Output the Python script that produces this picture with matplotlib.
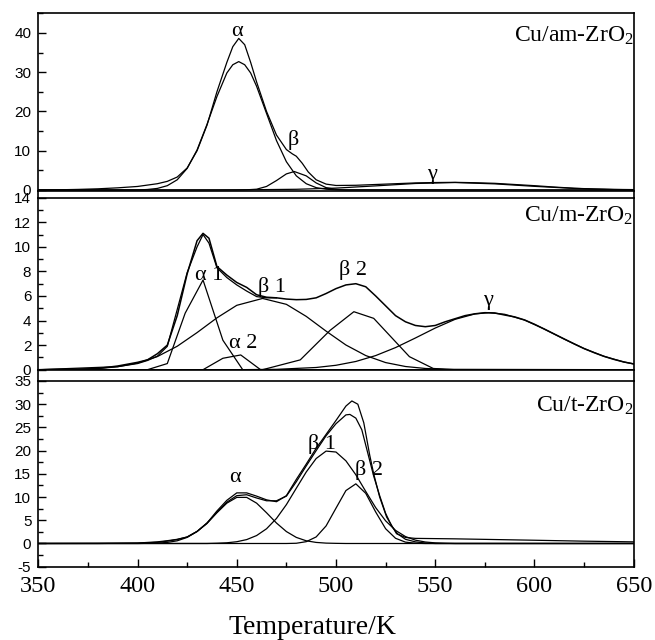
import matplotlib
matplotlib.use('Agg')
import matplotlib.pyplot as plt
from matplotlib.ticker import MultipleLocator
from matplotlib.lines import Line2D

# ---- Cu/am-ZrO2 (top panel) ----
am_T = [350, 360, 370, 380, 390, 400, 410, 415, 420, 425, 430, 435, 440, 445, 448, 451,
        454, 457, 460, 465, 470, 475, 478, 480, 483, 486, 490, 495, 500, 510, 520, 530,
        540, 550, 560, 570, 580, 590, 600, 610, 620, 630, 640, 650]
am_total = [0.0, 0.05, 0.15, 0.3, 0.55, 0.9, 1.6, 2.2, 3.3, 5.6, 10.0, 16.5, 25.0, 32.5, 36.5, 38.6,
            37.0, 32.5, 27.5, 20.0, 14.0, 10.3, 9.2, 8.6, 6.8, 4.6, 2.6, 1.5, 1.15, 1.2, 1.4, 1.6,
            1.8, 1.9, 1.95, 1.85, 1.7, 1.4, 1.1, 0.75, 0.45, 0.25, 0.15, 0.1]
am_a_T = [350, 400, 405, 410, 415, 420, 425, 430, 435, 440, 445, 448, 451, 454, 457, 460,
          465, 470, 475, 480, 485, 490, 495, 500, 650]
am_a = [0, 0.0, 0.13, 0.4, 1.1, 2.6, 5.5, 10.2, 16.7, 23.8, 29.8, 31.9, 32.7, 31.9, 29.8, 26.4,
        19.5, 12.6, 7.2, 3.6, 1.6, 0.6, 0.2, 0.05, 0]
am_b_T = [350, 450, 455, 460, 465, 470, 475, 479, 485, 490, 495, 500, 505, 650]
am_b = [0, 0, 0.05, 0.2, 0.9, 2.4, 4.1, 4.7, 3.6, 1.8, 0.6, 0.15, 0, 0]
am_g_T = [350, 440, 460, 480, 500, 520, 540, 560, 580, 600, 620, 640, 650]
am_g = [0, 0.03, 0.08, 0.18, 0.48, 1.05, 1.66, 1.9, 1.56, 0.93, 0.4, 0.12, 0.06]

# ---- Cu/m-ZrO2 (middle panel) ----
m_T = [350, 370, 380, 390, 400, 405, 410, 415, 420, 425, 430, 433, 436, 440, 445,
       450, 455, 460, 465, 470, 475, 480, 485, 490, 495, 500, 505, 510, 515, 520,
       525, 530, 535, 540, 545, 550, 555, 560, 565, 570, 575, 580, 585, 590, 595,
       600, 605, 610, 615, 620, 625, 630, 635, 640, 645, 650]
m_total = [0, 0.02, 0.1, 0.3, 0.6, 0.8, 1.3, 2.0, 4.4, 7.8, 10.5, 11.1, 10.7, 8.4, 7.7,
           7.1, 6.7, 6.1, 5.9, 5.85, 5.75, 5.7, 5.72, 5.85, 6.2, 6.6, 6.9, 7.0, 6.75, 6.0,
           5.2, 4.4, 3.9, 3.6, 3.5, 3.6, 3.9, 4.15, 4.4, 4.55, 4.64, 4.62, 4.45, 4.3, 4.05,
           3.7, 3.3, 2.9, 2.5, 2.1, 1.72, 1.39, 1.09, 0.84, 0.63, 0.47]
m_fit_T = [350, 390, 400, 405, 410, 415, 420, 425, 430, 433, 436, 440, 445, 450, 455, 460, 465, 470]
m_fit = [0, 0.25, 0.5, 0.75, 1.1, 1.9, 4.9, 7.9, 10.0, 11.0, 10.3, 8.3, 7.5, 6.9, 6.4, 5.95, 5.85, 5.85]
m_a1_T = [350, 405, 415, 424, 433, 443, 453, 650]
m_a1 = [0, 0, 0.5, 4.6, 7.3, 2.4, 0, 0]
m_a2_T = [350, 433, 443, 452, 462, 650]
m_a2 = [0, 0, 0.93, 1.2, 0, 0]
m_b1_T = [350, 380, 390, 400, 410, 420, 430, 440, 450, 463, 475, 485, 495, 505, 515,
          525, 535, 545, 555, 650]
m_b1 = [0, 0.09, 0.24, 0.54, 1.07, 1.91, 3.02, 4.22, 5.24, 5.8, 5.32, 4.34, 3.14, 2.01, 1.15,
        0.58, 0.26, 0.1, 0.03, 0]
m_b2_T = [350, 463, 482, 497, 509, 519, 537, 549, 560, 650]
m_b2 = [0, 0, 0.8, 3.2, 4.72, 4.18, 1.06, 0.1, 0, 0]
m_g_T = [350, 450, 470, 490, 500, 510, 520, 530, 540, 550, 560, 570, 577, 585, 595,
         605, 615, 625, 635, 645, 650]
m_g = [0, 0.0, 0.03, 0.18, 0.36, 0.67, 1.15, 1.8, 2.58, 3.39, 4.1, 4.54, 4.64, 4.51, 4.04,
       3.31, 2.49, 1.72, 1.09, 0.63, 0.47]

# ---- Cu/t-ZrO2 (bottom panel) ----
t_T = [350, 380, 400, 410, 415, 420, 425, 430, 435, 440, 445, 450, 455, 460, 465, 470,
       475, 480, 485, 490, 495, 500, 505, 508, 511, 514, 517, 519, 522, 525.5, 530.5, 535,
       540, 560, 580, 600, 625, 650]
t_total = [0, 0, 0.1, 0.35, 0.6, 0.9, 1.4, 2.6, 4.4, 7.0, 9.3, 10.9, 10.9, 10.2, 9.4, 9.0,
           10.3, 13.8, 17.1, 20.5, 23.5, 26.5, 29.6, 30.7, 30.0, 26.0, 19.0, 15.0, 10.0, 5.7, 2.1, 1.3,
           1.1, 1.0, 0.85, 0.7, 0.5, 0.35]
t_fit_T = [350, 400, 410, 415, 420, 425, 430, 435, 440, 445, 450, 455, 460, 465, 470, 475,
           480, 485, 490, 495, 500, 505, 507, 510, 513, 516, 519, 522, 525, 528, 531, 535,
           540, 545, 550, 650]
t_fit = [0, 0.05, 0.25, 0.5, 0.85, 1.4, 2.6, 4.3, 6.7, 8.9, 10.3, 10.5, 9.8, 9.2, 9.2, 10.2,
         13.3, 16.7, 20.0, 23.2, 25.8, 27.7, 27.8, 27.0, 24.5, 19.5, 14.5, 10.3, 6.5, 3.8, 2.1, 0.9,
         0.35, 0.1, 0, 0]
t_a_T = [350, 400, 410, 415, 420, 425, 430, 435, 440, 445, 450, 455, 460, 465, 470, 475,
         480, 485, 490, 495, 500, 505, 650]
t_a = [0, 0.0, 0.08, 0.23, 0.58, 1.31, 2.57, 4.41, 6.62, 8.69, 9.93, 9.93, 8.69, 6.62, 4.41, 2.57,
       1.31, 0.58, 0.23, 0.08, 0.03, 0, 0]
t_b1_T = [350, 435, 440, 445, 450, 455, 460, 465, 470, 475, 480, 485, 490, 495, 500, 505,
          510, 515, 520, 525, 530, 535, 540, 545, 550, 555, 560, 650]
t_b1 = [0, 0.0, 0.06, 0.15, 0.38, 0.84, 1.71, 3.17, 5.39, 8.37, 11.9, 15.4, 18.3, 19.9, 19.7, 17.8,
        14.8, 11.2, 7.72, 4.88, 2.82, 1.49, 0.72, 0.32, 0.13, 0.05, 0, 0]
t_b2_T = [350, 475, 480, 485, 490, 495, 500, 505, 510, 515, 520, 525, 530, 535, 540, 545, 650]
t_b2 = [0, 0, 0.05, 0.39, 1.41, 3.78, 7.61, 11.4, 12.85, 10.8, 6.78, 3.18, 1.12, 0.29, 0.06, 0, 0]

plt.rcParams['font.family'] = 'Liberation Sans'
plt.rcParams['mathtext.default'] = 'regular'
plt.rcParams['axes.unicode_minus'] = False
SERIF = 'Liberation Serif'

W, H = 655, 640
fig = plt.figure(figsize=(W / 100, H / 100), dpi=100)
X0, X1 = 38.3, 633.7


def px_axes(top, bottom):
    return fig.add_axes([X0 / W, 1 - bottom / H, (X1 - X0) / W, (bottom - top) / H])


ax1 = px_axes(13.3, 190.7)
ax2 = px_axes(197.7, 369.7)
ax3 = px_axes(381.0, 566.7)

lw = 0.9
ax1.plot(am_T, am_total, 'k-', lw=lw)
ax1.plot(am_a_T, am_a, 'k-', lw=lw)
ax1.plot(am_b_T, am_b, 'k-', lw=lw)
ax1.plot(am_g_T, am_g, 'k-', lw=lw)

ax2.plot(m_T, m_total, 'k-', lw=1.1)
ax2.plot(m_fit_T, m_fit, 'k-', lw=lw)
ax2.plot(m_a1_T, m_a1, 'k-', lw=lw)
ax2.plot(m_a2_T, m_a2, 'k-', lw=lw)
ax2.plot(m_b1_T, m_b1, 'k-', lw=lw)
ax2.plot(m_b2_T, m_b2, 'k-', lw=lw)
ax2.plot(m_g_T, m_g, 'k-', lw=lw)

ax3.plot(t_T, t_total, 'k-', lw=lw)
ax3.plot(t_fit_T, t_fit, 'k-', lw=lw)
ax3.plot(t_a_T, t_a, 'k-', lw=lw)
ax3.plot(t_b1_T, t_b1, 'k-', lw=lw)
ax3.plot(t_b2_T, t_b2, 'k-', lw=lw)

ax1.set_ylim(-0.18, 45.0)
ax2.set_ylim(0, 14)
ax3.set_ylim(-5, 35)
ax1.yaxis.set_major_locator(MultipleLocator(10))
ax1.yaxis.set_minor_locator(MultipleLocator(5))
ax2.yaxis.set_major_locator(MultipleLocator(2))
ax2.yaxis.set_minor_locator(MultipleLocator(1))
ax3.yaxis.set_major_locator(MultipleLocator(5))
ax3.yaxis.set_minor_locator(MultipleLocator(2.5))

for ax in (ax1, ax2, ax3):
    ax.set_xlim(350, 650)
    ax.xaxis.set_major_locator(MultipleLocator(50))
    ax.xaxis.set_minor_locator(MultipleLocator(25))
    for s in ax.spines.values():
        s.set_linewidth(1.2)
    ax.tick_params(axis='y', which='both', direction='in', left=True, right=False,
                   width=1.0, labelsize=11, pad=5)
    ax.tick_params(axis='y', which='major', length=6)
    ax.tick_params(axis='y', which='minor', length=3.5)
    ax.tick_params(axis='x', which='both', direction='in', top=False, width=1.0,
                   labelsize=17.5, pad=7)
    ax.tick_params(axis='x', which='major', length=6)
    ax.tick_params(axis='x', which='minor', length=3.5)

for ax in (ax1, ax2):
    ax.tick_params(axis='x', which='both', bottom=False, labelbottom=False)

for lbl in ax3.get_xticklabels():
    lbl.set_fontfamily(SERIF)

# vertical frame through the small gaps between panels
for x in (X0, X1):
    for ya, yb in ((190.7, 197.7), (369.7, 381.0)):
        fig.add_artist(Line2D([x / W, x / W], [1 - ya / H, 1 - yb / H],
                              transform=fig.transFigure, color='k', lw=1.2))

# panel names
ax1.text(1.0, 0.934, 'Cu/am-ZrO$_2$', transform=ax1.transAxes, ha='right', va='top',
         fontsize=17, family=SERIF)
ax2.text(1.0, 0.958, 'Cu/m-ZrO$_2$', transform=ax2.transAxes, ha='right', va='top',
         fontsize=17, family=SERIF)
ax3.text(1.0, 0.925, 'Cu/t-ZrO$_2$', transform=ax3.transAxes, ha='right', va='top',
         fontsize=17, family=SERIF)

# peak labels
gk = dict(ha='center', va='center', fontsize=16, family=SERIF)
ax1.text(449.9, 40.3, 'α', **gk)
ax1.text(478.7, 12.7, 'β', **gk)
ax1.text(548.3, 4.0, 'γ', **gk)
ax2.text(436.0, 7.7, 'α 1', **gk)
ax2.text(468.0, 6.7, 'β 1', **gk)
ax2.text(453.3, 2.1, 'α 2', **gk)
ax2.text(508.7, 8.1, 'β 2', **gk)
ax2.text(576.7, 5.67, 'γ', **gk)
ax3.text(449.1, 14.3, 'α', **gk)
ax3.text(493.0, 21.4, 'β 1', **gk)
ax3.text(516.7, 15.9, 'β 2', **gk)

fig.text(312.5 / W, 1 - 627 / H, 'Temperature/K', ha='center', va='center',
         fontsize=20, family=SERIF)

fig.savefig('out.png', dpi=100)
